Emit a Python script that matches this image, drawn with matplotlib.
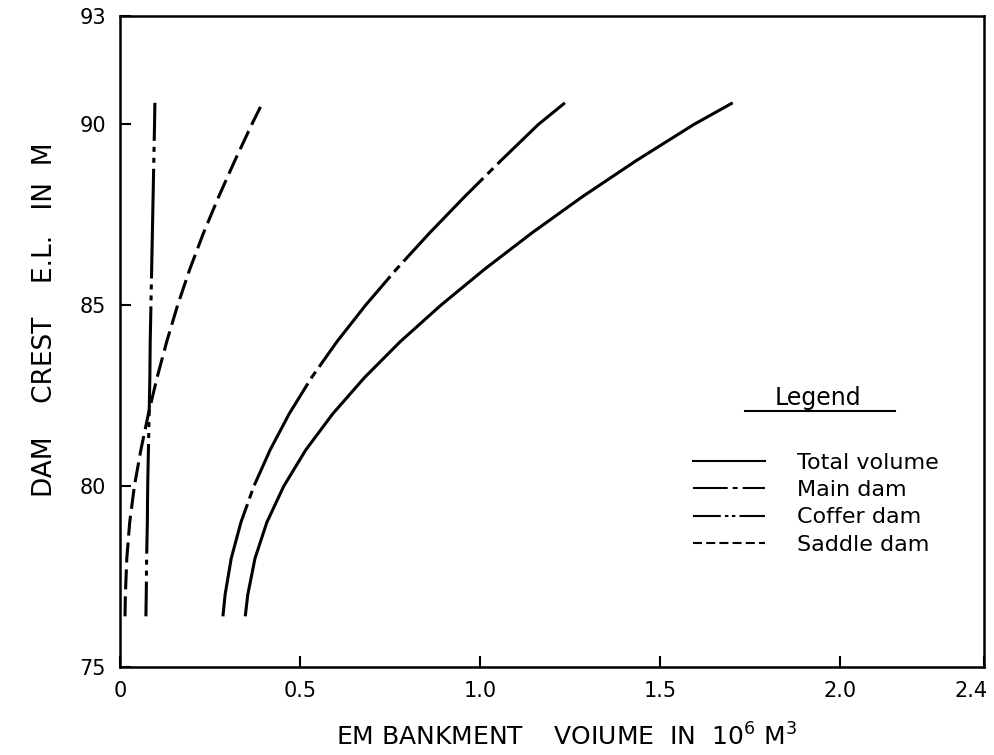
import matplotlib
matplotlib.use('Agg')
import matplotlib.pyplot as plt
from matplotlib.lines import Line2D
from matplotlib.transforms import ScaledTranslation

# crest elevation (m) and embankment volumes (10^6 m^3)
elevation = [76.4, 77, 78, 79, 80, 81, 82, 83, 84, 85, 86, 87, 88, 89, 90, 90.6]
total_volume = [0.348, 0.355, 0.375, 0.408, 0.455, 0.516, 0.591, 0.679, 0.779,
                0.891, 1.013, 1.144, 1.284, 1.434, 1.594, 1.702]
main_dam = [0.286, 0.292, 0.309, 0.336, 0.372, 0.417, 0.470, 0.532, 0.603,
            0.682, 0.768, 0.860, 0.957, 1.058, 1.162, 1.236]
coffer_dam = [0.072, 0.073, 0.074, 0.076, 0.077, 0.079, 0.081, 0.083, 0.084,
              0.086, 0.088, 0.090, 0.092, 0.094, 0.096, 0.097]
saddle_dam = [0.014, 0.015, 0.019, 0.027, 0.040, 0.058, 0.079, 0.103, 0.130,
              0.160, 0.194, 0.232, 0.274, 0.319, 0.366, 0.396]

labels = ['Total volume', 'Main dam', 'Coffer dam', 'Saddle dam']
x_ticks = [0, 0.5, 1.0, 1.5, 2.0, 2.4]
x_ticklabels = ['0', '0.5', '1.0', '1.5', '2.0', '2.4']
y_ticks = [75, 80, 85, 90, 93]

plt.rcParams['lines.scale_dashes'] = False
plt.rcParams['font.family'] = 'DejaVu Sans'

fig = plt.figure(figsize=(9.94, 7.55), dpi=100)
ax = fig.add_axes([0.1207, 0.1166, 0.8692, 0.8622])

lw = 2.2
ax.plot(total_volume, elevation, color='black', lw=lw, solid_capstyle='butt')
ax.plot(main_dam, elevation, color='black', lw=lw,
        linestyle=(0, (83, 4.3, 5.8, 4.3)), dash_capstyle='butt')
ax.plot(coffer_dam, elevation, color='black', lw=lw,
        linestyle=(54, (79, 4.3, 3.6, 4.3, 3.6, 4.3)), dash_capstyle='butt')
ax.plot(saddle_dam, elevation, color='black', lw=lw,
        linestyle=(0, (14.4, 5)), dash_capstyle='butt')

ax.set_xlim(0, 2.4)
ax.set_ylim(75, 93)
ax.set_xticks(x_ticks)
ax.set_xticklabels(x_ticklabels)
ax.set_yticks(y_ticks)
ax.tick_params(direction='in', length=8, width=1.5, labelsize=15, pad=10)
for s in ax.spines.values():
    s.set_linewidth(1.8)

# last x label sits at the right border, nudge it inside
last = ax.get_xticklabels()[-1]
last.set_transform(last.get_transform()
                   + ScaledTranslation(-9 / 72, 0, fig.dpi_scale_trans))

ax.set_ylabel('DAM    CREST    E.L.   IN  M', fontsize=19)
ax.yaxis.set_label_coords(-0.072, 0.533)
ax.set_xlabel('EM BANKMENT    VOIUME  IN  10$^6$ M$^3$', fontsize=18, va='top')
ax.xaxis.set_label_coords(0.517, -0.086)

# legend with its own shorter dash patterns
handles = [
    Line2D([], [], color='black', lw=1.5),
    Line2D([], [], color='black', lw=1.5, linestyle=(0, (25, 3.6, 3.6, 3.6))),
    Line2D([], [], color='black', lw=1.5, linestyle=(0, (20, 3, 2.5, 2.5, 2.5, 3))),
    Line2D([], [], color='black', lw=1.5, linestyle=(0, (6.5, 3))),
]
ax.legend(handles, labels, loc='upper left', bbox_to_anchor=(0.663, 0.329),
          frameon=False, fontsize=16, handlelength=3.24, handletextpad=1.44,
          labelspacing=0.33, borderpad=0, borderaxespad=0)
ax.text(0.808, 0.413, 'Legend', transform=ax.transAxes, fontsize=17,
        ha='center', va='center')
ax.plot([0.723, 0.897], [0.393, 0.393], transform=ax.transAxes,
        color='black', lw=1.5, clip_on=False)

fig.savefig('out.png', dpi=100)
